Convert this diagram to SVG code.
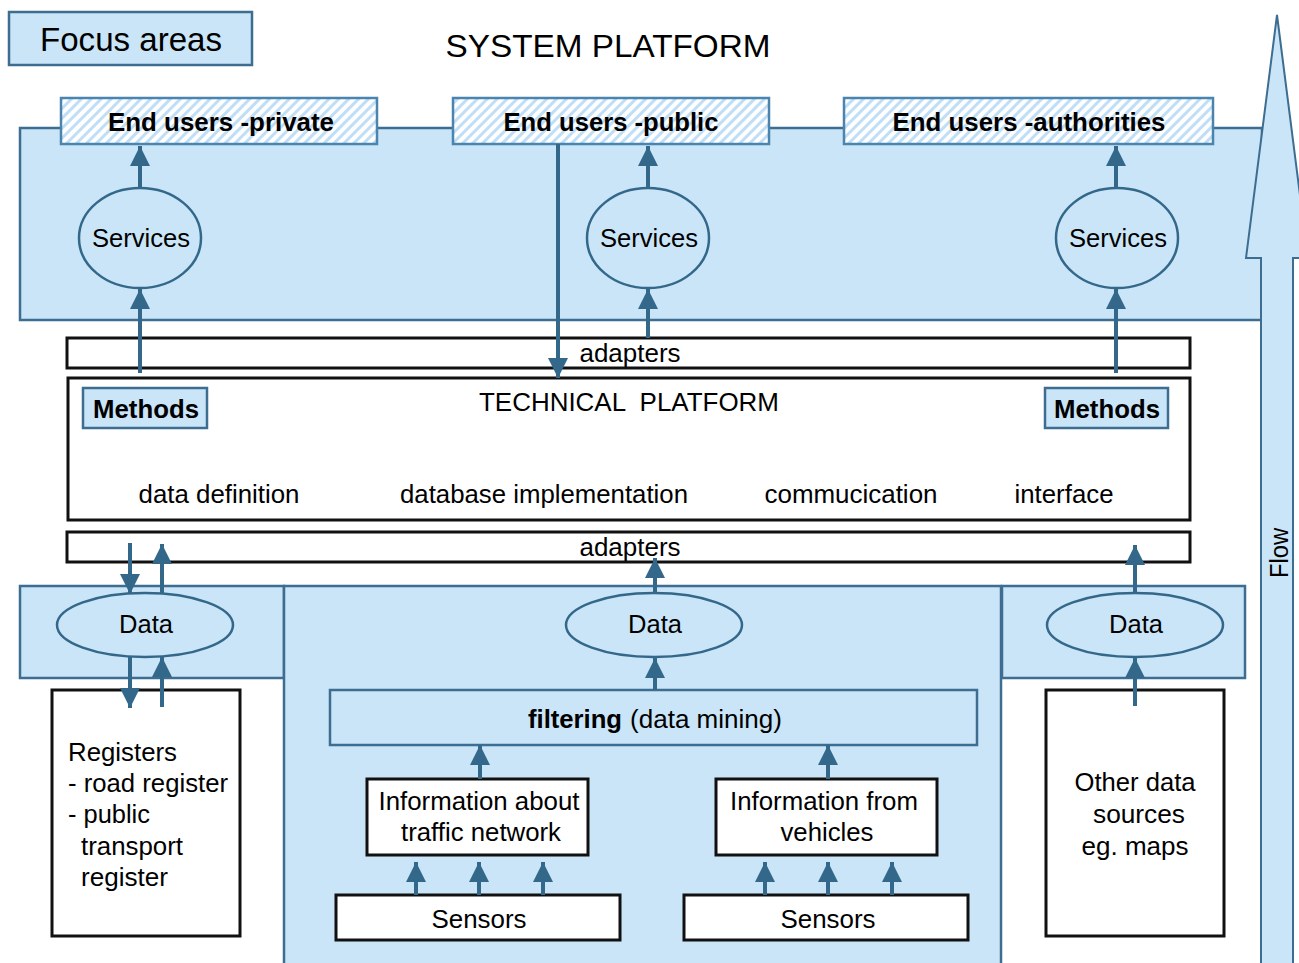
<svg xmlns="http://www.w3.org/2000/svg" width="1299" height="963" viewBox="0 0 1299 963">
<style>
text{font-family:"Liberation Sans",Arial,sans-serif;fill:#000}
.lb{fill:#cae5f7;stroke:#3d6d90;stroke-width:2.5}
.wb{fill:#fff;stroke:#111;stroke-width:3}
.hb{fill:url(#hatch);stroke:#4a85b0;stroke-width:2.5}
.el{fill:#cae5f7;stroke:#33688a;stroke-width:2.5}
.ar{stroke:#33688a;stroke-width:4;fill:none;marker-end:url(#ah)}
.t24{font-size:26px}
.b{font-weight:bold}
</style>
<defs>
<pattern id="hatch" width="7" height="7" patternUnits="userSpaceOnUse" patternTransform="rotate(45)">
<rect width="7" height="7" fill="#fff"/><rect width="3" height="7" fill="#c0def6"/>
</pattern>
<marker id="ah" viewBox="0 0 20 20" refX="20" refY="10" markerWidth="20" markerHeight="20" markerUnits="userSpaceOnUse" orient="auto">
<path d="M0,0 L20,10 L0,20 z" fill="#33688a"/>
</marker>
</defs>

<g id="system-panel"><rect class="lb" x="20" y="128" width="1242" height="192"/></g>
<g id="bottom-left-panel"><rect class="lb" x="20" y="586" width="264" height="92"/></g>
<g id="bottom-middle-panel"><rect class="lb" x="284" y="586" width="717" height="390"/></g>
<g id="bottom-right-panel"><rect class="lb" x="1002" y="586" width="243" height="92"/></g>

<g id="flow"><path d="M1277,15 L1246,258 L1261,258 L1261,975 L1293,975 L1293,258 L1308,258 Z" fill="#cae5f7" stroke="#3d6d90" stroke-width="2"/>
<text transform="translate(1288,553) rotate(-90)" font-size="25" text-anchor="middle" textLength="50" lengthAdjust="spacingAndGlyphs">Flow</text></g>

<g id="focus-areas"><rect class="lb" x="9" y="12" width="243" height="53"/>
<text x="131" y="51" font-size="33" text-anchor="middle" textLength="182" lengthAdjust="spacingAndGlyphs">Focus areas</text></g>
<g id="title"><text x="608" y="57" font-size="32" text-anchor="middle" textLength="325" lengthAdjust="spacingAndGlyphs">SYSTEM PLATFORM</text></g>

<g id="eu-private"><rect class="hb" x="61" y="98" width="316" height="46"/>
<text x="221" y="131" font-size="26" class="b" text-anchor="middle" textLength="226" lengthAdjust="spacingAndGlyphs">End users -private</text></g>
<g id="eu-public"><rect class="hb" x="453" y="98" width="316" height="46"/>
<text x="611" y="131" font-size="26" class="b" text-anchor="middle" textLength="215" lengthAdjust="spacingAndGlyphs">End users -public</text></g>
<g id="eu-authorities"><rect class="hb" x="844" y="98" width="369" height="46"/>
<text x="1029" y="131" font-size="26" class="b" text-anchor="middle" textLength="273" lengthAdjust="spacingAndGlyphs">End users -authorities</text></g>

<g id="services-1"><ellipse class="el" cx="140" cy="238" rx="61" ry="50"/><text class="t24" x="141" y="247" text-anchor="middle" textLength="98" lengthAdjust="spacingAndGlyphs">Services</text></g>
<g id="services-2"><ellipse class="el" cx="648" cy="238" rx="61" ry="50"/><text class="t24" x="649" y="247" text-anchor="middle" textLength="98" lengthAdjust="spacingAndGlyphs">Services</text></g>
<g id="services-3"><ellipse class="el" cx="1117" cy="238" rx="61" ry="50"/><text class="t24" x="1118" y="247" text-anchor="middle" textLength="98" lengthAdjust="spacingAndGlyphs">Services</text></g>

<g id="adapters-top"><rect class="wb" x="67" y="338" width="1123" height="30"/>
<text class="t24" x="630" y="362" text-anchor="middle" textLength="101" lengthAdjust="spacingAndGlyphs">adapters</text></g>

<g id="technical-platform"><rect class="wb" x="68" y="378" width="1122" height="142"/>
<text x="629" y="411" font-size="26" text-anchor="middle" textLength="300" lengthAdjust="spacingAndGlyphs" xml:space="preserve">TECHNICAL  PLATFORM</text>
<text class="t24" x="219" y="503" text-anchor="middle" textLength="161" lengthAdjust="spacingAndGlyphs">data definition</text>
<text class="t24" x="544" y="503" text-anchor="middle" textLength="288" lengthAdjust="spacingAndGlyphs">database implementation</text>
<text class="t24" x="851" y="503" text-anchor="middle" textLength="173" lengthAdjust="spacingAndGlyphs">commucication</text>
<text class="t24" x="1064" y="503" text-anchor="middle" textLength="99" lengthAdjust="spacingAndGlyphs">interface</text></g>
<g id="methods-left"><rect class="lb" x="83" y="388" width="124" height="40"/>
<text x="146" y="418" font-size="26" class="b" text-anchor="middle" textLength="106" lengthAdjust="spacingAndGlyphs">Methods</text></g>
<g id="methods-right"><rect class="lb" x="1045" y="388" width="123" height="40"/>
<text x="1107" y="418" font-size="26" class="b" text-anchor="middle" textLength="106" lengthAdjust="spacingAndGlyphs">Methods</text></g>

<g id="adapters-bottom"><rect class="wb" x="67" y="532" width="1123" height="30"/>
<text class="t24" x="630" y="556" text-anchor="middle" textLength="101" lengthAdjust="spacingAndGlyphs">adapters</text></g>

<g id="data-left"><ellipse class="el" cx="145" cy="625" rx="88" ry="32"/><text class="t24" x="146" y="633" text-anchor="middle" textLength="54" lengthAdjust="spacingAndGlyphs">Data</text></g>
<g id="data-middle"><ellipse class="el" cx="654" cy="625" rx="88" ry="32"/><text class="t24" x="655" y="633" text-anchor="middle" textLength="54" lengthAdjust="spacingAndGlyphs">Data</text></g>
<g id="data-right"><ellipse class="el" cx="1135" cy="625" rx="88" ry="32"/><text class="t24" x="1136" y="633" text-anchor="middle" textLength="54" lengthAdjust="spacingAndGlyphs">Data</text></g>

<g id="registers"><rect class="wb" x="52" y="690" width="188" height="246"/>
<text class="t24" x="68" y="761" textLength="109" lengthAdjust="spacingAndGlyphs">Registers</text>
<text class="t24" x="68" y="792" textLength="160" lengthAdjust="spacingAndGlyphs">- road register</text>
<text class="t24" x="68" y="823" textLength="82" lengthAdjust="spacingAndGlyphs">- public</text>
<text class="t24" x="81" y="855" textLength="102" lengthAdjust="spacingAndGlyphs">transport</text>
<text class="t24" x="81" y="886" textLength="87" lengthAdjust="spacingAndGlyphs">register</text></g>

<g id="filtering"><rect class="lb" x="330" y="690" width="647" height="55"/>
<text x="528" y="728" font-size="26" class="b" textLength="94" lengthAdjust="spacingAndGlyphs">filtering</text>
<text x="630" y="728" font-size="26" textLength="152" lengthAdjust="spacingAndGlyphs">(data mining)</text></g>

<g id="info-traffic"><rect class="wb" x="367" y="779" width="221" height="76"/>
<text class="t24" x="479" y="810" text-anchor="middle" textLength="201" lengthAdjust="spacingAndGlyphs">Information about</text>
<text class="t24" x="481" y="841" text-anchor="middle" textLength="160" lengthAdjust="spacingAndGlyphs">traffic network</text></g>
<g id="info-vehicles"><rect class="wb" x="716" y="779" width="221" height="76"/>
<text class="t24" x="824" y="810" text-anchor="middle" textLength="188" lengthAdjust="spacingAndGlyphs">Information from</text>
<text class="t24" x="827" y="841" text-anchor="middle" textLength="93" lengthAdjust="spacingAndGlyphs">vehicles</text></g>

<g id="sensors-1"><rect class="wb" x="336" y="895" width="284" height="45"/>
<text class="t24" x="479" y="928" text-anchor="middle" textLength="95" lengthAdjust="spacingAndGlyphs">Sensors</text></g>
<g id="sensors-2"><rect class="wb" x="684" y="895" width="284" height="45"/>
<text class="t24" x="828" y="928" text-anchor="middle" textLength="95" lengthAdjust="spacingAndGlyphs">Sensors</text></g>

<g id="other-data"><rect class="wb" x="1046" y="690" width="178" height="246"/>
<text class="t24" x="1135" y="791" text-anchor="middle" textLength="121" lengthAdjust="spacingAndGlyphs">Other data</text>
<text class="t24" x="1139" y="823" text-anchor="middle" textLength="92" lengthAdjust="spacingAndGlyphs">sources</text>
<text class="t24" x="1135" y="855" text-anchor="middle" textLength="107" lengthAdjust="spacingAndGlyphs">eg. maps</text></g>

<g id="connectors">
<line class="ar" x1="140" y1="188" x2="140" y2="146"/>
<line class="ar" x1="140" y1="373" x2="140" y2="289"/>
<line class="ar" x1="558" y1="144" x2="558" y2="378"/>
<line class="ar" x1="648" y1="338" x2="648" y2="289"/>
<line class="ar" x1="648" y1="188" x2="648" y2="146"/>
<line class="ar" x1="1116" y1="373" x2="1116" y2="289"/>
<line class="ar" x1="1116" y1="188" x2="1116" y2="146"/>
<line class="ar" x1="130" y1="543" x2="130" y2="594"/>
<line class="ar" x1="162" y1="593" x2="162" y2="544"/>
<line class="ar" x1="130" y1="657" x2="130" y2="708"/>
<line class="ar" x1="162" y1="707" x2="162" y2="657"/>
<line class="ar" x1="655" y1="593" x2="655" y2="558"/>
<line class="ar" x1="655" y1="690" x2="655" y2="658"/>
<line class="ar" x1="1135" y1="593" x2="1135" y2="545"/>
<line class="ar" x1="1135" y1="706" x2="1135" y2="658"/>
<line class="ar" x1="480" y1="779" x2="480" y2="745"/>
<line class="ar" x1="828" y1="779" x2="828" y2="745"/>
<line class="ar" x1="416" y1="895" x2="416" y2="862"/>
<line class="ar" x1="479" y1="895" x2="479" y2="862"/>
<line class="ar" x1="543" y1="895" x2="543" y2="862"/>
<line class="ar" x1="765" y1="895" x2="765" y2="862"/>
<line class="ar" x1="828" y1="895" x2="828" y2="862"/>
<line class="ar" x1="892" y1="895" x2="892" y2="862"/>
</g>
</svg>
